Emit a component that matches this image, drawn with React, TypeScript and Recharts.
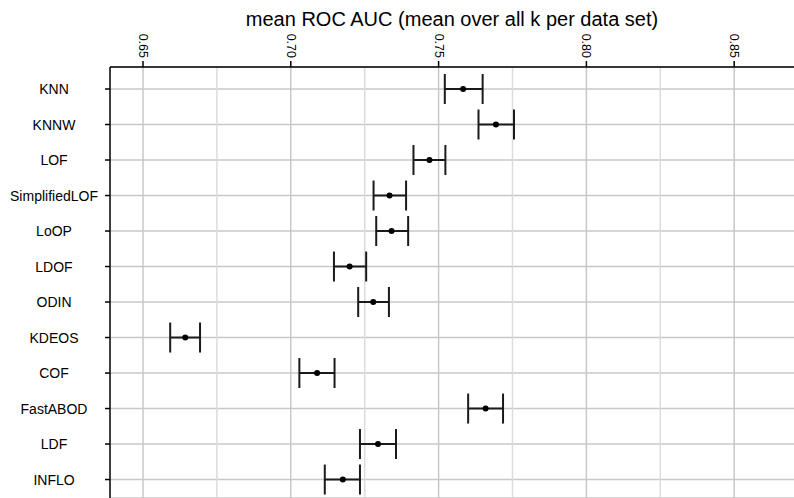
import React from 'react';
import {
  ScatterChart,
  Scatter,
  XAxis,
  YAxis,
  CartesianGrid,
  ErrorBar,
  ReferenceLine,
} from 'recharts';

const categories = [
  'KNN',
  'KNNW',
  'LOF',
  'SimplifiedLOF',
  'LoOP',
  'LDOF',
  'ODIN',
  'KDEOS',
  'COF',
  'FastABOD',
  'LDF',
  'INFLO',
];
const means = [0.7583, 0.7694, 0.7469, 0.7334, 0.7341, 0.7199, 0.7279, 0.6643, 0.7089, 0.7659, 0.7295, 0.7176];
const lowers = [0.7521, 0.7635, 0.7415, 0.728, 0.7289, 0.7146, 0.7228, 0.6592, 0.7029, 0.76, 0.7234, 0.7115];
const uppers = [0.7649, 0.7755, 0.7523, 0.739, 0.7397, 0.7255, 0.7332, 0.6693, 0.7148, 0.7718, 0.7356, 0.7234];
const majorTicks = [0.65, 0.7, 0.75, 0.8, 0.85];
const minorTicks = [0.675, 0.725, 0.775, 0.825];
const title = 'mean ROC AUC (mean over all k per data set)';

const rows = categories.map((name, i) => ({
  name,
  idx: i,
  mean: means[i],
  err: [means[i] - lowers[i], uppers[i] - means[i]],
}));

const XTick = (props: any) => {
  const { x, y, payload } = props;
  return (
    <text
      x={x}
      y={y}
      transform={`rotate(90, ${x}, ${y})`}
      textAnchor="end"
      dominantBaseline="central"
      fontSize={12.5}
      fill="#000"
    >
      {payload.value.toFixed(2)}
    </text>
  );
};

const YTick = (props: any) => {
  const { x, y, payload } = props;
  return (
    <text x={x - 49} y={y} textAnchor="middle" dominantBaseline="central" fontSize={14} fill="#000">
      {categories[payload.value]}
    </text>
  );
};

const Dot = (props: any) => {
  const { cx, cy } = props;
  return <circle cx={cx} cy={cy} r={3} fill="#000" />;
};

export default function App() {
  return (
    <div
      style={{
        position: 'absolute',
        left: 0,
        top: 0,
        width: 794,
        height: 498,
        background: '#fff',
        fontFamily: '"Liberation Sans", Arial, Helvetica, sans-serif',
      }}
    >
      <ScatterChart width={794} height={498} margin={{ top: 0, right: 0, bottom: 0, left: 0 }} data={rows}>
        <CartesianGrid vertical={false} stroke="#c8c8c8" strokeWidth={1.5} />
        {minorTicks.map((v) => (
          <ReferenceLine key={'mi' + v} x={v} stroke="#dcdcdc" strokeWidth={1.5} />
        ))}
        {majorTicks.map((v) => (
          <ReferenceLine key={'ma' + v} x={v} stroke="#c8c8c8" strokeWidth={1.5} />
        ))}
        <XAxis
          type="number"
          dataKey="mean"
          orientation="top"
          height={67}
          domain={[0.63884, 0.87023]}
          allowDataOverflow
          ticks={majorTicks}
          tick={<XTick />}
          tickSize={6}
          tickMargin={3}
          axisLine={{ stroke: '#000', strokeWidth: 1.5 }}
          tickLine={{ stroke: '#000', strokeWidth: 1.5 }}
          label={{ value: title, position: 'insideTop', offset: 12, fontSize: 20, fill: '#000' }}
        />
        <YAxis
          type="number"
          dataKey="idx"
          width={110}
          reversed
          domain={[-0.62, 11.52]}
          allowDataOverflow
          ticks={categories.map((_, i) => i)}
          tick={<YTick />}
          tickSize={5}
          tickMargin={2}
          axisLine={{ stroke: '#000', strokeWidth: 1.5 }}
          tickLine={{ stroke: '#000', strokeWidth: 1.5 }}
        />
        <Scatter data={rows} dataKey="mean" shape={<Dot />} isAnimationActive={false}>
          <ErrorBar dataKey="err" direction="x" width={15} stroke="#1a1a1a" strokeWidth={2} />
        </Scatter>
      </ScatterChart>
    </div>
  );
}
